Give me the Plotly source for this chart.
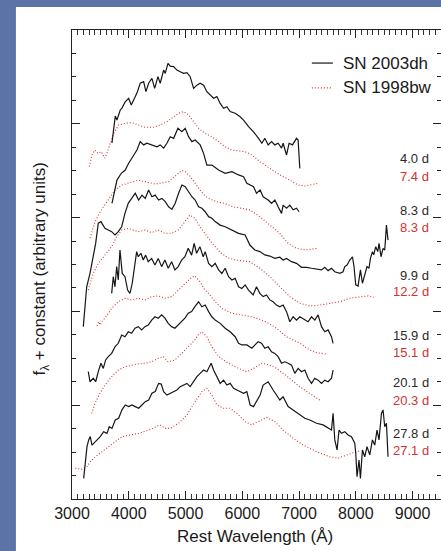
import plotly.graph_objects as go

# ---------------- data (rest wavelength in Angstrom, flux + constant in arbitrary units) -------------
epochs_03dh = ["4.0 d", "8.3 d", "9.9 d", "15.9 d", "20.1 d", "27.8 d"]
epochs_98bw = ["7.4 d", "8.3 d", "12.2 d", "15.1 d", "20.3 d", "27.1 d"]

# SN 2003dh, 4.0 d
w_dh_1 = [3704, 3762, 3792, 3850, 3880, 3938, 3998, 4044, 4086, 4144, 4202, 4262, 4302, 4350, 4408, 4456,
          4514, 4554, 4614, 4642, 4690, 4730, 4790, 4848, 4906, 4966, 5024, 5082, 5142, 5200, 5258, 5318,
          5376, 5434, 5494, 5552, 5610, 5670, 5728, 5786, 5874, 5962, 6022, 6110, 6198, 6286, 6344, 6397,
          6455, 6515, 6573, 6631, 6691, 6719, 6779, 6824, 6884, 6955, 6983, 7013]
f_dh_1 = [15.18, 16.33, 16.16, 16.59, 16.67, 16.94, 17.09, 16.80, 17.02, 17.31, 17.73, 17.80, 17.37, 17.73,
          17.94, 17.51, 18.01, 17.73, 18.29, 18.15, 18.58, 18.46, 18.44, 18.29, 18.22, 18.15, 18.18, 18.01,
          17.51, 17.65, 17.73, 17.65, 17.37, 17.23, 17.09, 17.16, 16.87, 16.66, 16.73, 16.52, 16.45, 16.30,
          16.16, 15.88, 15.66, 15.38, 15.17, 15.38, 15.10, 15.24, 15.10, 15.17, 14.96, 15.17, 14.67, 15.17,
          15.10, 15.38, 15.31, 14.10]

# SN 1998bw, 7.4 d
w_bw_1 = [3304, 3352, 3400, 3458, 3516, 3576, 3616, 3674, 3734, 3822, 3938, 4056, 4174, 4290, 4438, 4554,
          4672, 4790, 4878, 4966, 5054, 5142, 5230, 5346, 5464, 5582, 5698, 5816, 5934, 6050, 6168, 6314,
          6485, 6661, 6837, 6983, 7101, 7219, 7335]
f_bw_1 = [14.17, 14.67, 14.88, 14.74, 14.81, 14.53, 14.74, 15.17, 15.60, 15.95, 16.02, 16.05, 15.95, 15.85,
          15.85, 15.95, 16.09, 16.28, 16.45, 16.52, 16.38, 16.09, 15.81, 15.59, 15.45, 15.24, 15.02, 14.88,
          14.85, 14.81, 14.67, 14.38, 14.10, 13.82, 13.60, 13.39, 13.35, 13.39, 13.46]

# SN 2003dh, 8.3 d
w_dh_2 = [3704, 3792, 3868, 3938, 3998, 4056, 4144, 4202, 4262, 4320, 4408, 4496, 4554, 4614, 4672, 4730,
          4790, 4866, 4936, 4994, 5054, 5112, 5170, 5258, 5318, 5376, 5464, 5582, 5698, 5816, 5934, 6022,
          6080, 6198, 6250, 6314, 6367, 6455, 6515, 6573, 6631, 6691, 6719, 6779, 6837, 6895, 6955, 7000]
f_dh_2 = [12.61, 13.60, 13.89, 14.03, 14.32, 14.53, 14.88, 15.24, 15.10, 15.17, 15.10, 15.02, 15.10, 14.96,
          15.17, 15.45, 15.38, 15.81, 15.66, 15.81, 15.45, 15.24, 15.31, 15.10, 14.74, 14.24, 14.24, 14.03,
          13.89, 13.96, 13.82, 13.74, 13.46, 13.32, 13.04, 13.18, 12.89, 12.75, 12.61, 12.75, 12.46, 12.18,
          12.53, 12.40, 12.53, 12.33, 12.40, 12.25]

# SN 1998bw, 8.3 d
w_bw_2 = [3317, 3405, 3493, 3634, 3757, 3880, 4021, 4174, 4338, 4466, 4584, 4702, 4778, 4878, 4936, 4994,
          5077, 5165, 5253, 5346, 5429, 5546, 5698, 5834, 5975, 6133, 6309, 6485, 6661, 6807, 6955, 7101,
          7247, 7335]
f_bw_2 = [11.13, 11.81, 12.24, 12.75, 13.18, 13.39, 13.48, 13.60, 13.50, 13.43, 13.48, 13.53, 13.69, 13.90,
          14.01, 13.96, 13.77, 13.48, 13.18, 12.92, 12.79, 12.68, 12.60, 12.46, 12.41, 12.33, 12.04, 11.68,
          11.33, 10.90, 10.69, 10.62, 10.65, 10.69]

# SN 2003dh, 9.9 d
w_dh_3 = [3199, 3259, 3317, 3375, 3417, 3463, 3510, 3546, 3581, 3639, 3699, 3757, 3815, 3875, 3933, 3991,
          4056, 4114, 4174, 4232, 4290, 4350, 4408, 4466, 4526, 4584, 4642, 4702, 4760, 4818, 4878, 4936,
          4994, 5054, 5112, 5170, 5230, 5288, 5346, 5406, 5464, 5522, 5610, 5698, 5816, 5934, 6050, 6133,
          6221, 6309, 6397, 6485, 6573, 6661, 6719, 6779, 6867, 6955, 7043, 7131, 7219, 7307, 7395, 7453,
          7511, 7571, 7629, 7717, 7775, 7805, 7845, 7893, 7940, 7968, 7998, 8039, 8081, 8116, 8157, 8197,
          8232, 8257, 8292, 8315, 8350, 8386, 8408, 8444, 8479, 8509, 8539, 8567]
f_dh_3 = [7.35, 9.05, 9.62, 10.33, 10.90, 11.76, 11.83, 11.68, 11.54, 11.47, 11.40, 11.26, 11.40, 11.61,
          12.18, 12.61, 12.82, 13.04, 12.75, 12.96, 12.82, 13.18, 12.89, 12.96, 12.75, 12.82, 12.68, 12.46,
          12.35, 12.61, 13.04, 13.39, 13.32, 13.10, 12.89, 12.75, 12.46, 12.40, 12.25, 12.04, 11.97, 11.83,
          11.68, 11.61, 11.47, 11.33, 11.26, 10.83, 10.62, 10.55, 10.41, 10.36, 10.26, 10.31, 10.19, 10.26,
          10.12, 10.05, 9.88, 9.88, 9.84, 9.80, 9.77, 9.88, 9.74, 9.84, 9.69, 9.62, 9.69, 9.91, 9.98, 10.19,
          10.33, 9.91, 9.13, 9.08, 9.77, 9.20, 9.62, 9.91, 9.84, 10.26, 10.55, 10.41, 10.76, 10.55, 10.90,
          10.33, 10.69, 10.62, 11.68, 11.04]

# SN 1998bw, 12.2 d
w_bw_3 = [3287, 3375, 3463, 3581, 3699, 3787, 3875, 3991, 4167, 4285, 4403, 4519, 4637, 4755, 4871, 4989,
          5077, 5165, 5253, 5341, 5464, 5605, 5746, 5886, 6027, 6133, 6309, 6485, 6661, 6837, 7013, 7189,
          7365, 7541, 7717, 7893, 8069, 8215, 8315]
f_bw_3 = [8.91, 9.62, 10.05, 10.41, 10.76, 11.19, 11.47, 11.54, 11.40, 11.47, 11.36, 11.47, 11.33, 11.33,
          11.47, 11.83, 12.11, 11.97, 11.61, 11.33, 10.92, 10.53, 10.28, 10.19, 10.15, 10.12, 9.84, 9.48,
          9.05, 8.63, 8.35, 8.23, 8.27, 8.35, 8.41, 8.56, 8.60, 8.66, 8.60]

# SN 2003dh, 15.9 d
w_dh_4 = [3699, 3727, 3757, 3787, 3815, 3845, 3885, 3933, 3980, 4021, 4061, 4096, 4139, 4167, 4214, 4255,
          4297, 4343, 4403, 4461, 4519, 4579, 4637, 4695, 4755, 4813, 4871, 4931, 4989, 5047, 5107, 5152,
          5194, 5253, 5311, 5346, 5406, 5464, 5522, 5582, 5640, 5698, 5758, 5816, 5874, 5934, 5992, 6050,
          6110, 6191, 6250, 6309, 6367, 6427, 6485, 6543, 6602, 6661, 6719, 6779, 6837, 6895, 6955, 7013,
          7101, 7159, 7219, 7277, 7335, 7395, 7453, 7511, 7571, 7599]
f_dh_4 = [8.77, 9.48, 9.05, 9.91, 9.34, 10.62, 9.62, 9.48, 8.91, 8.77, 9.20, 9.77, 10.55, 10.33, 10.48,
          10.19, 10.40, 10.12, 10.26, 9.98, 10.26, 9.91, 10.19, 9.84, 10.12, 9.77, 9.91, 10.19, 10.33, 10.69,
          10.40, 10.90, 10.48, 10.76, 10.33, 10.55, 10.05, 9.91, 10.05, 9.77, 9.62, 9.84, 9.48, 9.34, 9.41,
          9.05, 8.98, 9.13, 8.91, 8.70, 9.05, 8.77, 8.63, 8.70, 8.49, 8.41, 8.27, 8.20, 8.27, 7.99, 7.56,
          7.77, 7.63, 7.77, 7.66, 7.56, 7.77, 7.63, 7.85, 7.35, 7.13, 7.21, 6.92, 6.64]

# SN 1998bw, 15.1 d
w_bw_4 = [3440, 3470, 3498, 3540, 3581, 3699, 3815, 3933, 4051, 4167, 4285, 4403, 4519, 4637, 4755, 4871,
          4989, 5107, 5165, 5253, 5341, 5406, 5522, 5640, 5816, 5992, 6168, 6344, 6485, 6602, 6779, 7013,
          7189, 7330, 7488]
f_bw_4 = [7.38, 7.56, 7.42, 7.63, 7.71, 8.13, 8.41, 8.56, 8.49, 8.56, 8.49, 8.63, 8.66, 8.56, 8.63, 8.91,
          9.20, 9.45, 9.51, 9.27, 8.91, 8.77, 8.41, 8.13, 7.92, 7.85, 7.77, 7.63, 7.46, 7.28, 6.92, 6.65,
          6.35, 6.23, 6.18]

# SN 2003dh, 20.1 d
w_dh_5 = [3287, 3317, 3375, 3417, 3463, 3510, 3551, 3593, 3639, 3699, 3757, 3815, 3875, 3933, 3991, 4051,
          4109, 4167, 4227, 4285, 4343, 4403, 4461, 4519, 4579, 4637, 4695, 4755, 4813, 4871, 4931, 4989,
          5047, 5107, 5165, 5230, 5288, 5346, 5406, 5464, 5522, 5610, 5698, 5786, 5874, 5934, 5992, 6080,
          6168, 6221, 6279, 6339, 6397, 6455, 6515, 6573, 6631, 6691, 6749, 6807, 6867, 6925, 6983, 7043,
          7101, 7159, 7219, 7277, 7335, 7395, 7453, 7511, 7571, 7599]
f_dh_5 = [5.43, 5.00, 5.15, 5.00, 5.43, 5.79, 5.57, 5.93, 6.07, 6.21, 6.49, 6.64, 6.99, 6.92, 7.13, 7.07,
          7.28, 7.35, 7.21, 7.35, 7.42, 7.63, 7.77, 7.71, 7.85, 7.71, 7.49, 7.35, 7.28, 7.42, 7.56, 7.71,
          7.92, 7.99, 8.20, 8.41, 8.20, 8.27, 7.99, 7.77, 7.63, 7.49, 7.28, 7.13, 6.92, 6.64, 6.57, 6.57,
          6.43, 6.57, 6.71, 6.64, 6.43, 6.49, 6.28, 6.21, 6.07, 5.79, 5.85, 5.79, 5.71, 5.36, 5.57, 5.43,
          5.50, 5.15, 4.93, 5.15, 5.07, 4.93, 5.07, 5.00, 5.15, 5.50]

# SN 1998bw, 20.3 d
w_bw_5 = [3347, 3405, 3493, 3581, 3699, 3815, 3933, 4051, 4167, 4285, 4403, 4519, 4607, 4695, 4813, 4931,
          5047, 5165, 5218, 5288, 5376, 5464, 5582, 5758, 5934, 6080, 6198, 6344, 6485, 6590, 6719, 6872,
          7013, 7189, 7365]
f_bw_5 = [3.65, 4.08, 4.51, 4.86, 5.22, 5.50, 5.64, 5.71, 5.76, 5.79, 5.85, 6.00, 6.07, 5.85, 5.93, 6.21,
          6.49, 6.78, 6.99, 7.13, 6.92, 6.49, 6.07, 5.79, 5.57, 5.43, 5.57, 5.79, 5.71, 5.59, 5.36, 5.07,
          4.79, 4.50, 4.22]

# SN 2003dh, 27.8 d
w_dh_6 = [3206, 3234, 3264, 3294, 3322, 3352, 3382, 3440, 3498, 3558, 3616, 3656, 3704, 3762, 3822, 3880,
          3938, 3998, 4056, 4114, 4174, 4232, 4290, 4350, 4408, 4466, 4526, 4572, 4614, 4672, 4730, 4790,
          4848, 4906, 4966, 5024, 5082, 5142, 5200, 5258, 5318, 5376, 5416, 5451, 5494, 5552, 5610, 5670,
          5728, 5786, 5846, 5904, 5962, 6022, 6080, 6138, 6198, 6256, 6314, 6367, 6455, 6543, 6661, 6719,
          6807, 6895, 7013, 7101, 7189, 7307, 7423, 7511, 7571, 7599, 7629, 7669, 7704, 7747, 7805, 7863,
          7923, 7981, 7998, 8021, 8056, 8081, 8116, 8157, 8197, 8245, 8292, 8333, 8373, 8408, 8451, 8479,
          8509, 8539, 8567]
f_dh_6 = [0.88, 1.52, 2.23, 2.52, 2.66, 2.30, 2.38, 2.52, 2.66, 2.87, 2.80, 3.08, 3.01, 3.37, 3.44, 3.80,
          4.01, 3.94, 4.01, 3.94, 3.87, 4.01, 4.15, 4.22, 4.51, 4.58, 4.93, 4.90, 4.58, 4.43, 4.51, 4.58,
          4.65, 4.79, 4.86, 4.93, 4.79, 5.00, 5.22, 5.36, 5.50, 5.43, 5.64, 5.79, 5.50, 5.22, 4.93, 5.07,
          4.86, 4.93, 4.72, 4.65, 4.58, 4.51, 4.58, 4.01, 3.94, 4.22, 4.43, 4.86, 5.00, 4.65, 4.22, 4.36,
          3.94, 3.80, 3.58, 3.44, 3.37, 3.23, 3.16, 3.01, 2.94, 3.65, 2.52, 2.09, 2.94, 2.80, 2.87, 2.73,
          2.66, 2.38, 1.95, 0.95, 1.66, 0.88, 2.09, 1.80, 2.23, 1.88, 2.52, 2.30, 2.94, 2.52, 3.65, 3.80,
          3.08, 3.23, 1.80]

# SN 1998bw, 27.1 d
w_bw_6 = [3058, 3176, 3264, 3322, 3410, 3528, 3646, 3762, 3880, 4026, 4174, 4350, 4496, 4554, 4642, 4730,
          4878, 5024, 5170, 5288, 5376, 5464, 5552, 5670, 5786, 5904, 6050, 6168, 6279, 6427, 6573, 6719,
          6895, 7071, 7307, 7541, 7687, 7835, 7951, 8069]
f_bw_6 = [1.31, 1.27, 1.38, 1.59, 1.80, 2.02, 2.23, 2.44, 2.66, 2.73, 2.80, 2.94, 3.11, 3.16, 3.01, 3.01,
          3.23, 3.58, 4.15, 4.58, 4.72, 4.43, 4.01, 3.87, 3.87, 3.65, 3.30, 3.16, 3.30, 3.48, 3.30, 2.94,
          2.59, 2.30, 2.02, 1.80, 1.74, 1.88, 1.97, 2.06]

# epoch label heights (same arbitrary flux units as the spectra)
label_y_03dh = [14.54, 12.32, 9.55, 6.99, 4.95, 2.81]
label_y_98bw = [13.77, 11.56, 8.83, 6.23, 4.18, 2.05]

# ---------------- figure ----------------
BLACK = "#161616"
RED = "#d63030"
FONT = "Liberation Sans, Arial, Helvetica, sans-serif"
RED_DASH = "1px,2px"
AXC = "#222"

spec_dh = [(w_dh_1, f_dh_1), (w_dh_2, f_dh_2), (w_dh_3, f_dh_3),
           (w_dh_4, f_dh_4), (w_dh_5, f_dh_5), (w_dh_6, f_dh_6)]
spec_bw = [(w_bw_1, f_bw_1), (w_bw_2, f_bw_2), (w_bw_3, f_bw_3),
           (w_bw_4, f_bw_4), (w_bw_5, f_bw_5), (w_bw_6, f_bw_6)]

fig = go.Figure()
for (w, f), ep in zip(spec_bw, epochs_98bw):
    fig.add_trace(go.Scatter(x=w, y=f, mode="lines", name="SN 1998bw " + ep,
                             line=dict(color=RED, width=1.1, dash=RED_DASH),
                             showlegend=False))
for (w, f), ep in zip(spec_dh, epochs_03dh):
    fig.add_trace(go.Scatter(x=w, y=f, mode="lines", name="SN 2003dh " + ep,
                             line=dict(color=BLACK, width=1.2),
                             showlegend=False))

annotations = []
for txt, y in zip(epochs_03dh, label_y_03dh):
    annotations.append(dict(x=9320, y=y, xref="x", yref="y", text=txt, showarrow=False,
                            xanchor="right", yanchor="middle",
                            font=dict(family=FONT, size=13, color="#2a2a2a")))
for txt, y in zip(epochs_98bw, label_y_98bw):
    annotations.append(dict(x=9320, y=y, xref="x", yref="y", text=txt, showarrow=False,
                            xanchor="right", yanchor="middle",
                            font=dict(family=FONT, size=13, color=RED)))

# legend (text + sample lines)
legend_rows = [("SN 2003dh", 18.59, BLACK, "solid"), ("SN 1998bw", 17.53, RED, RED_DASH)]
shapes = [dict(type="rect", xref="paper", yref="paper", x0=-0.152, x1=1.05, y0=-0.25, y1=1.049,
               fillcolor="white", line=dict(width=0), layer="below")]
for txt, y, col, dash in legend_rows:
    annotations.append(dict(x=7730, y=y, xref="x", yref="y", text=txt, showarrow=False,
                            xanchor="left", yanchor="middle",
                            font=dict(family=FONT, size=17, color="#1a1a1a")))
    shapes.append(dict(type="line", xref="x", yref="y", x0=7225, x1=7595, y0=y, y1=y,
                       line=dict(color=col, width=1.2, dash=dash)))

# axis titles
annotations.append(dict(x=0.495, y=-0.079, xref="paper", yref="paper",
                        text="Rest Wavelength (Å)", showarrow=False,
                        xanchor="center", yanchor="middle",
                        font=dict(family=FONT, size=17, color="#1a1a1a")))
annotations.append(dict(x=-0.083, y=0.49, xref="paper", yref="paper",
                        text="f<sub>λ</sub> + constant (arbitrary units)", showarrow=False,
                        textangle=-90, xanchor="center", yanchor="middle",
                        font=dict(family=FONT, size=17, color="#1a1a1a")))

fig.update_layout(
    width=441, height=551,
    margin=dict(l=72, r=0, t=30, b=52, pad=0),
    paper_bgcolor="#5b73a7",
    plot_bgcolor="white",
    showlegend=False,
    annotations=annotations,
    shapes=shapes,
    font=dict(family=FONT, color="#1a1a1a"),
)
fig.update_xaxes(range=[3000, 9500], tickmode="linear", tick0=3000, dtick=1000,
                 ticks="inside", ticklen=8, tickwidth=1.4, tickcolor=AXC,
                 minor=dict(dtick=100, tick0=3000, ticks="inside", ticklen=5, tickcolor="#333", tickwidth=1.3),
                 showline=True, linecolor=AXC, linewidth=1, mirror="allticks",
                 showgrid=False, zeroline=False,
                 tickfont=dict(family=FONT, size=16, color="#1a1a1a"))
fig.update_yaxes(range=[0, 20], tickmode="linear", tick0=0, dtick=4, showticklabels=False,
                 ticks="inside", ticklen=8, tickwidth=1, tickcolor=AXC,
                 minor=dict(dtick=1, tick0=0, ticks="inside", ticklen=4, tickcolor=AXC, tickwidth=1),
                 showline=True, linecolor=AXC, linewidth=1, mirror="allticks",
                 showgrid=False, zeroline=False)

fig.write_html("out.html")
